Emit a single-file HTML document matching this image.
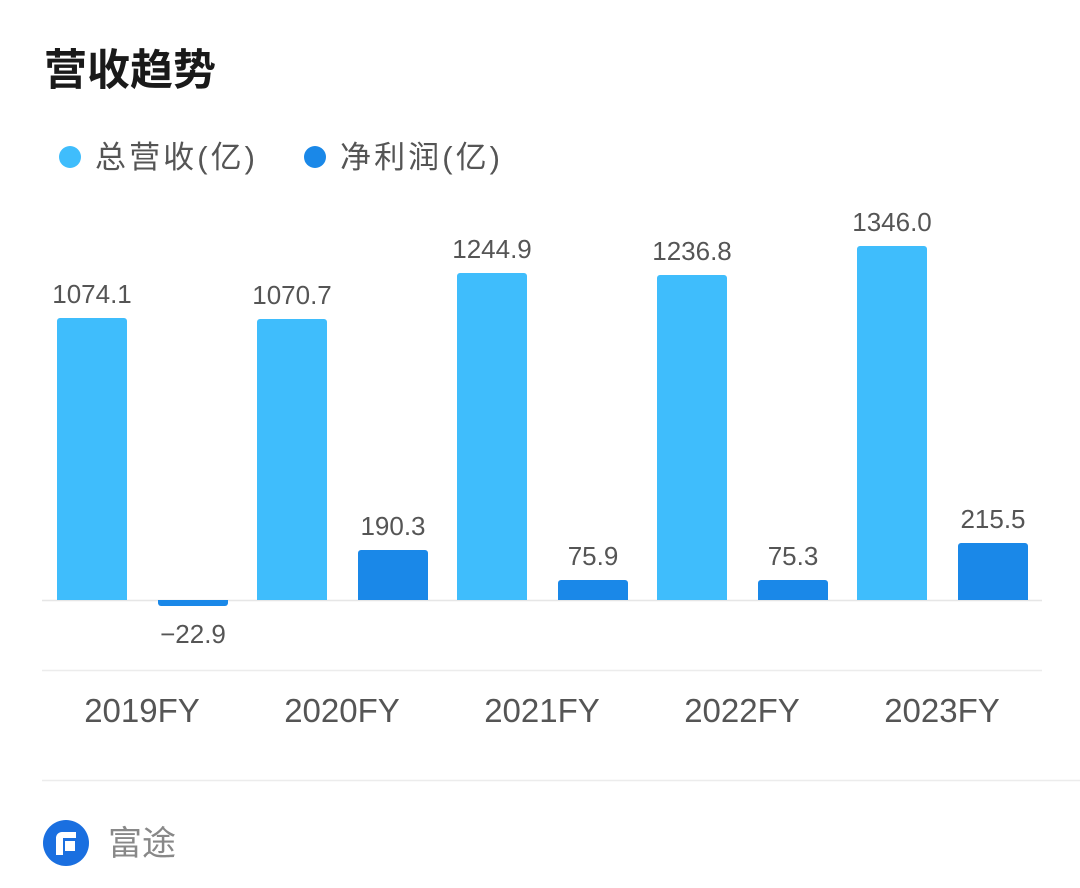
<!DOCTYPE html>
<html><head><meta charset="utf-8"><style>
body{margin:0;width:1080px;height:883px;background:#fff;overflow:hidden;font-family:"Liberation Sans","Noto Sans CJK SC",sans-serif;}
</style></head><body>
<svg width="1080" height="883" xmlns="http://www.w3.org/2000/svg" font-family="Liberation Sans, Noto Sans CJK SC, sans-serif">
<text x="44" y="85" font-size="43" font-weight="bold" fill="#1a1a1a" font-family="Noto Sans CJK SC, sans-serif">营收趋势</text>
<circle cx="70" cy="157" r="11" fill="#3fbdfc"/>
<text x="95" y="168" font-size="31" fill="#555" textLength="160" lengthAdjust="spacing" font-family="Liberation Sans, Noto Sans CJK SC, sans-serif">总营收(亿)</text>
<circle cx="315" cy="157" r="11" fill="#1a88e8"/>
<text x="340" y="168" font-size="31" fill="#555" textLength="160" lengthAdjust="spacing" font-family="Liberation Sans, Noto Sans CJK SC, sans-serif">净利润(亿)</text>
<line x1="42" y1="600.5" x2="1042" y2="600.5" stroke="#e6e6e6" stroke-width="1.5"/>
<line x1="42" y1="670.5" x2="1042" y2="670.5" stroke="#ececec" stroke-width="1.5"/>
<line x1="42" y1="780.5" x2="1080" y2="780.5" stroke="#ececec" stroke-width="1.5"/>
<g fill="#3fbdfc">
<path d="M57 600V321a3 3 0 0 1 3-3h64a3 3 0 0 1 3 3V600z"/>
<path d="M257 600V322a3 3 0 0 1 3-3h64a3 3 0 0 1 3 3V600z"/>
<path d="M457 600V276a3 3 0 0 1 3-3h64a3 3 0 0 1 3 3V600z"/>
<path d="M657 600V278a3 3 0 0 1 3-3h64a3 3 0 0 1 3 3V600z"/>
<path d="M857 600V249a3 3 0 0 1 3-3h64a3 3 0 0 1 3 3V600z"/>
</g>
<g fill="#1a88e8">
<path d="M158 600h70v3a3 3 0 0 1-3 3h-64a3 3 0 0 1-3-3z"/>
<path d="M358 600V553a3 3 0 0 1 3-3h64a3 3 0 0 1 3 3V600z"/>
<path d="M558 600V583a3 3 0 0 1 3-3h64a3 3 0 0 1 3 3V600z"/>
<path d="M758 600V583a3 3 0 0 1 3-3h64a3 3 0 0 1 3 3V600z"/>
<path d="M958 600V546a3 3 0 0 1 3-3h64a3 3 0 0 1 3 3V600z"/>
</g>
<g font-size="26" fill="#555" text-anchor="middle">
<text x="92" y="303">1074.1</text>
<text x="292" y="304">1070.7</text>
<text x="492" y="258">1244.9</text>
<text x="692" y="260">1236.8</text>
<text x="892" y="231">1346.0</text>
<text x="193" y="643">−22.9</text>
<text x="393" y="535">190.3</text>
<text x="593" y="565">75.9</text>
<text x="793" y="565">75.3</text>
<text x="993" y="528">215.5</text>
</g>
<g font-size="33" fill="#555" text-anchor="middle">
<text x="142" y="722">2019FY</text>
<text x="342" y="722">2020FY</text>
<text x="542" y="722">2021FY</text>
<text x="742" y="722">2022FY</text>
<text x="942" y="722">2023FY</text>
</g>
<circle cx="66" cy="843" r="23" fill="#1a6fe0"/>
<path d="M56 855V838a6 6 0 0 1 6-6h14v6h-13v17z M65 841h10v10h-10z" fill="#fff"/>
<text x="108" y="855" font-size="34" fill="#888" font-family="Noto Sans CJK SC, sans-serif">富途</text>
</svg>
</body></html>
